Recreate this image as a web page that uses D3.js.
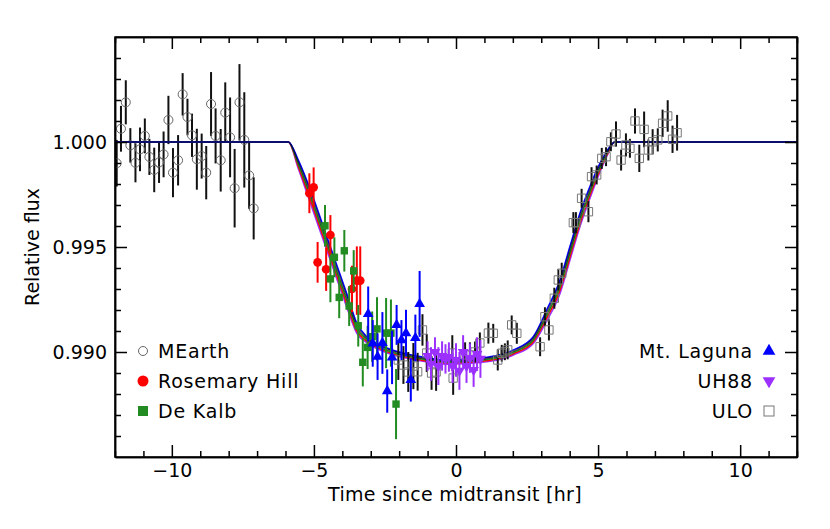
<!DOCTYPE html>
<html lang="en">
<head>
<meta charset="utf-8">
<title>Transit light curve</title>
<script src="https://cdn.jsdelivr.net/npm/d3@7"></script>
<style>
	body { margin: 0; background: #fff; }
	text { font-family: "DejaVu Sans", sans-serif; fill: #000; }
	.axis path, .axis line { stroke: #000; stroke-width: 1.5; }
</style>
</head>
<body>
<div id="chart"></div>
<script>
// ---- data ----
var mearthTime = [-11.94,-11.79,-11.62,-11.46,-11.28,-11.12,-10.95,-10.79,-10.62,-10.45,-10.29,-10.12,-9.96,-9.78,-9.62,-9.45,-9.29,-9.12,-8.95,-8.79,-8.62,-8.46,-8.28,-8.12,-7.95,-7.79,-7.62,-7.45,-7.28,-7.12];
var mearthFlux = [0.99899,1.00063,1.00189,0.99984,0.99901,0.99965,1.00029,0.99929,0.99867,0.99903,0.99941,1.00105,0.99854,0.99913,1.00227,1.00119,1.00032,0.99918,0.99933,0.99854,1.00181,1.00029,0.99913,1.00140,1.00022,0.99780,1.00189,1.00010,0.99841,0.99684];
var mearthErr  = [0.00111,0.00109,0.00105,0.00082,0.00093,0.00104,0.00083,0.00086,0.00106,0.00098,0.00109,0.00115,0.00117,0.00120,0.00101,0.00087,0.00103,0.00145,0.00107,0.00127,0.00152,0.00131,0.00149,0.00144,0.00190,0.00187,0.00182,0.00227,0.00159,0.00148];

var rhTime = [-5.16,-5.01,-4.87,-4.57,-4.42,-3.66,-3.49,-3.37];
var rhFlux = [0.99756,0.99784,0.99427,0.99394,0.99557,0.99300,0.99340,0.99340];
var rhErr  = [0.00095,0.00095,0.00097,0.00103,0.00095,0.00111,0.00163,0.00163];

var dkTime = [-4.61,-4.42,-4.28,-4.11,-3.93,-3.76,-3.60,-3.44,-3.28,-3.11,-2.95,-2.78,-2.46,-2.29,-2.11];
var dkFlux = [0.99601,0.99348,0.99451,0.99260,0.99482,0.99219,0.99386,0.99125,0.98951,0.99022,0.99073,0.99110,0.99090,0.99090,0.98752];
var dkErr  = [0.00099,0.00111,0.00095,0.00099,0.00099,0.00095,0.00099,0.00099,0.00115,0.00103,0.00120,0.00151,0.00167,0.00160,0.00167];

var mlTime = [-3.09,-2.93,-2.76,-2.59,-2.42,-2.25,-2.09,-1.92,-1.76,-1.59,-1.43,-1.28];
var mlFlux = [0.99181,0.99041,0.98978,0.99043,0.98814,0.98974,0.99129,0.99057,0.99090,0.98867,0.99067,0.99229];
var mlErr  = [0.00131,0.00111,0.00111,0.00147,0.00103,0.00127,0.00095,0.00095,0.00111,0.00103,0.00111,0.00157];

var uhTime = [-1.00,-0.88,-0.74,-0.62,-0.49,-0.37,-0.25,-0.12,0.00,0.12,0.25,0.37,0.49,0.62,0.74,0.86];
var uhFlux = [0.98981,0.98943,0.99000,0.98933,0.98981,0.98967,0.98976,0.98933,0.98962,0.98910,0.99000,0.98933,0.98971,0.98914,0.98990,0.98967];
var uhErr  = [0.0007,0.0008,0.0007,0.0009,0.0007,0.0007,0.0007,0.0008,0.0008,0.0009,0.0008,0.0008,0.0007,0.0008,0.0008,0.0009];

var uloTime = [-2.03,-1.85,-1.68,-1.50,-1.35,-1.18,-1.03,-0.86,-0.70,-0.13,-0.10,0.32,0.49,0.67,0.84,1.14,1.31,1.47,1.61,1.72,1.82,1.96,2.14,2.96,3.13,3.27,3.46,3.60,3.72,4.13,4.22,4.42,4.66,4.77,4.95,5.13,5.28,5.45,5.63,5.81,5.98,6.12,6.30,6.45,6.62,6.77,6.92,7.10,7.27,7.45,7.62,7.78];
var uloFlux = [0.98962,0.98938,0.98905,0.98933,0.98906,0.99105,0.98995,0.98900,0.98905,0.98995,0.98876,0.98986,0.98986,0.99000,0.99043,0.99090,0.99089,0.98962,0.98994,0.99001,0.99010,0.99129,0.99089,0.99025,0.99168,0.99105,0.99256,0.99343,0.99375,0.99616,0.99616,0.99732,0.99668,0.99835,0.99843,0.99922,0.99930,1.00001,1.00038,0.99914,0.99986,0.99970,1.00100,0.99922,1.00060,0.99962,1.00001,1.00010,1.00089,1.00124,1.00013,1.00044];
var uloErr  = [0.00095,0.00090,0.00095,0.00110,0.00090,0.00075,0.00090,0.00080,0.00090,0.00085,0.00080,0.00060,0.00060,0.00050,0.00050,0.00050,0.00045,0.00050,0.00040,0.00040,0.00045,0.00045,0.00050,0.00045,0.00045,0.00050,0.00050,0.00050,0.00050,0.00050,0.00050,0.00045,0.00050,0.00045,0.00045,0.00050,0.00045,0.00045,0.00060,0.00050,0.00055,0.00045,0.00060,0.00065,0.00085,0.00050,0.00060,0.00055,0.00065,0.00075,0.00065,0.00085];

// model curves (one time grid, five fits)
var modelTime   = [-12,-5.9,-5.55,-5.08,-4.67,-4.26,-3.85,-3.49,-3.14,-2.67,-1.27,-0.33,0.84,2.02,2.72,3.19,3.66,4.01,4.36,4.71,5.07,5.30,5.59,12];
var modelBlue   = [1,1,0.99914,0.99756,0.99597,0.99438,0.99280,0.99137,0.99073,0.99033,0.98978,0.98962,0.98970,0.99010,0.99073,0.99200,0.99343,0.99502,0.99660,0.99787,0.99899,0.99954,1,1];
var modelBlack  = [1,1,0.99904,0.99740,0.99581,0.99422,0.99264,0.99125,0.99066,0.99027,0.98973,0.98957,0.98965,0.99004,0.99065,0.99187,0.99327,0.99486,0.99644,0.99773,0.99889,0.99948,1,1];
var modelGreen  = [1,1,0.99894,0.99724,0.99565,0.99406,0.99248,0.99113,0.99059,0.99021,0.98968,0.98952,0.98960,0.98998,0.99057,0.99174,0.99311,0.99470,0.99628,0.99759,0.99879,0.99942,1,1];
var modelRed    = [1,1,0.99884,0.99708,0.99549,0.99390,0.99232,0.99101,0.99052,0.99015,0.98963,0.98947,0.98955,0.98992,0.99049,0.99161,0.99295,0.99454,0.99612,0.99745,0.99869,0.99936,1,1];
var modelPurple = [1,1,0.99874,0.99692,0.99533,0.99374,0.99216,0.99089,0.99045,0.99009,0.98958,0.98942,0.98950,0.98986,0.99041,0.99148,0.99279,0.99438,0.99596,0.99731,0.99859,0.99930,1,1];

var xMajor = [-10,-5,0,5,10];
var yMajor = [0.990,0.995,1.000];

// ---- layout ----
var w = 830, h = 529;
var plotL = 115, plotR = 797, plotT = 37, plotB = 457;

var red = "#ff0000", green = "#228b22", blue = "#0000ff", purple = "#9b30ff";

var svg = d3.select("#chart").append("svg").attr("width", w).attr("height", h);

var x = d3.scaleLinear().domain([-12, 12]).range([plotL, plotR]);
var y = d3.scaleLinear().domain([0.985, 1.005]).range([plotB, plotT]);

svg.append("defs").append("clipPath").attr("id", "clip")
	.append("rect").attr("x", plotL).attr("y", plotT)
	.attr("width", plotR - plotL).attr("height", plotB - plotT);

var plot = svg.append("g").attr("clip-path", "url(#clip)");

var zip = function(t, f, e) {
	return t.map(function(d, i) { return {t: d, f: f[i], e: e ? e[i] : 0}; });
};

var errorBars = function(data, color) {
	plot.append("g").selectAll("line")
		.data(data)
		.enter()
		.append("line")
		.attr("x1", function(d) { return x(d.t); })
		.attr("x2", function(d) { return x(d.t); })
		.attr("y1", function(d) { return y(d.f - d.e); })
		.attr("y2", function(d) { return y(d.f + d.e); })
		.attr("stroke", color)
		.attr("stroke-width", 2);
};

var symbols = function(data, type, size, fill, stroke, rot) {
	plot.append("g").selectAll("path")
		.data(data)
		.enter()
		.append("path")
		.attr("d", d3.symbol().type(type).size(size))
		.attr("transform", function(d) {
			return "translate(" + x(d.t) + "," + y(d.f) + ")" + (rot ? " rotate(" + rot + ")" : "");
		})
		.attr("fill", fill)
		.attr("stroke", stroke)
		.attr("stroke-width", 1);
};

// MEarth first
var mearth = zip(mearthTime, mearthFlux, mearthErr);
errorBars(mearth, "#111");
symbols(mearth, d3.symbolCircle, 64, "none", "#666");

// models
var line = d3.line()
	.x(function(d) { return x(d.t); })
	.y(function(d) { return y(d.f); })
	.curve(d3.curveMonotoneX);

[[modelPurple, purple, 1], [modelRed, red, 1], [modelGreen, green, 1], [modelBlue, blue, 1], [modelBlack, "#000", 0.6]]
	.forEach(function(m) {
		plot.append("path")
			.datum(zip(modelTime, m[0]))
			.attr("d", line)
			.attr("fill", "none")
			.attr("stroke", m[1])
			.attr("stroke-opacity", m[2])
			.attr("stroke-width", 1.6);
	});

var ulo = zip(uloTime, uloFlux, uloErr);
errorBars(ulo, "#111");
symbols(ulo, d3.symbolSquare, 70, "none", "#777");

var rh = zip(rhTime, rhFlux, rhErr);
errorBars(rh, red);
symbols(rh, d3.symbolCircle, 60, red, "none");

var dk = zip(dkTime, dkFlux, dkErr);
errorBars(dk, green);
symbols(dk, d3.symbolSquare, 55, green, "none");

var ml = zip(mlTime, mlFlux, mlErr);
errorBars(ml, blue);
symbols(ml, d3.symbolTriangle, 50, blue, "none");

var uh = zip(uhTime, uhFlux, uhErr);
errorBars(uh, purple);
symbols(uh, d3.symbolTriangle, 50, purple, "none", 180);

// ---- axes (ticks point inward on all four sides) ----
var xMinor = d3.range(-12, 13).filter(function(d) { return d % 5 !== 0; });
var yMinor = d3.range(985, 1006).filter(function(d) { return d % 5 !== 0; }).map(function(d) { return d / 1000; });

svg.append("g").attr("class", "axis")
	.attr("transform", "translate(0," + plotB + ")")
	.call(d3.axisBottom(x).tickValues(xMajor).tickSize(-12).tickSizeOuter(0).tickPadding(7)
		.tickFormat(function(d) { return d < 0 ? "\u2212" + Math.abs(d) : d; }));
svg.append("g").attr("class", "axis")
	.attr("transform", "translate(0," + plotB + ")")
	.call(d3.axisBottom(x).tickValues(xMinor).tickSize(-6).tickSizeOuter(0).tickFormat(""));
svg.append("g").attr("class", "axis")
	.attr("transform", "translate(0," + plotT + ")")
	.call(d3.axisTop(x).tickValues(xMajor).tickSize(-12).tickSizeOuter(0).tickFormat(""));
svg.append("g").attr("class", "axis")
	.attr("transform", "translate(0," + plotT + ")")
	.call(d3.axisTop(x).tickValues(xMinor).tickSize(-6).tickSizeOuter(0).tickFormat(""));

svg.append("g").attr("class", "axis")
	.attr("transform", "translate(" + plotL + ",0)")
	.call(d3.axisLeft(y).tickValues(yMajor).tickSize(-12).tickSizeOuter(0).tickPadding(8)
		.tickFormat(d3.format(".3f")));
svg.append("g").attr("class", "axis")
	.attr("transform", "translate(" + plotL + ",0)")
	.call(d3.axisLeft(y).tickValues(yMinor).tickSize(-6).tickSizeOuter(0).tickFormat(""));
svg.append("g").attr("class", "axis")
	.attr("transform", "translate(" + plotR + ",0)")
	.call(d3.axisRight(y).tickValues(yMajor).tickSize(-12).tickSizeOuter(0).tickFormat(""));
svg.append("g").attr("class", "axis")
	.attr("transform", "translate(" + plotR + ",0)")
	.call(d3.axisRight(y).tickValues(yMinor).tickSize(-6).tickSizeOuter(0).tickFormat(""));

svg.selectAll(".axis text").attr("font-size", 19)
	.style("font-family", "'DejaVu Sans', sans-serif");

svg.append("rect")
	.attr("x", plotL).attr("y", plotT)
	.attr("width", plotR - plotL).attr("height", plotB - plotT)
	.attr("fill", "none").attr("stroke", "#000").attr("stroke-width", 1.5);

// axis titles
svg.append("text")
	.attr("x", (plotL + plotR) / 2 - 1).attr("y", 501)
	.attr("text-anchor", "middle").attr("font-size", 19).style("letter-spacing", "0.3px")
	.text("Time since midtransit [hr]");

svg.append("text")
	.attr("transform", "translate(39,247) rotate(-90)")
	.attr("text-anchor", "middle").attr("font-size", 19)
	.text("Relative flux");

// ---- legends ----
var legLeft = [
	{label: "MEarth", y: 351},
	{label: "Rosemary Hill", y: 381},
	{label: "De Kalb", y: 411}
];
var legRight = [
	{label: "Mt. Laguna", y: 351},
	{label: "UH88", y: 381},
	{label: "ULO", y: 411}
];

svg.append("circle").attr("cx", 143).attr("cy", 351).attr("r", 4.5)
	.attr("fill", "none").attr("stroke", "#666");
svg.append("circle").attr("cx", 143).attr("cy", 381).attr("r", 5.5).attr("fill", red);
svg.append("rect").attr("x", 138).attr("y", 406).attr("width", 10).attr("height", 10).attr("fill", green);

svg.append("path").attr("d", d3.symbol().type(d3.symbolTriangle).size(70))
	.attr("transform", "translate(769,351)").attr("fill", blue);
svg.append("path").attr("d", d3.symbol().type(d3.symbolTriangle).size(70))
	.attr("transform", "translate(769,381) rotate(180)").attr("fill", purple);
svg.append("rect").attr("x", 764).attr("y", 406).attr("width", 10).attr("height", 10)
	.attr("fill", "none").attr("stroke", "#777");

svg.selectAll(".legL").data(legLeft).enter().append("text")
	.attr("x", 158).attr("y", function(d) { return d.y + 7; })
	.attr("font-size", 19).style("letter-spacing", "0.8px")
	.text(function(d) { return d.label; });

svg.selectAll(".legR").data(legRight).enter().append("text")
	.attr("x", 753).attr("y", function(d) { return d.y + 7; })
	.attr("text-anchor", "end")
	.attr("font-size", 19).style("letter-spacing", "0.8px")
	.text(function(d) { return d.label; });
</script>
</body>
</html>
